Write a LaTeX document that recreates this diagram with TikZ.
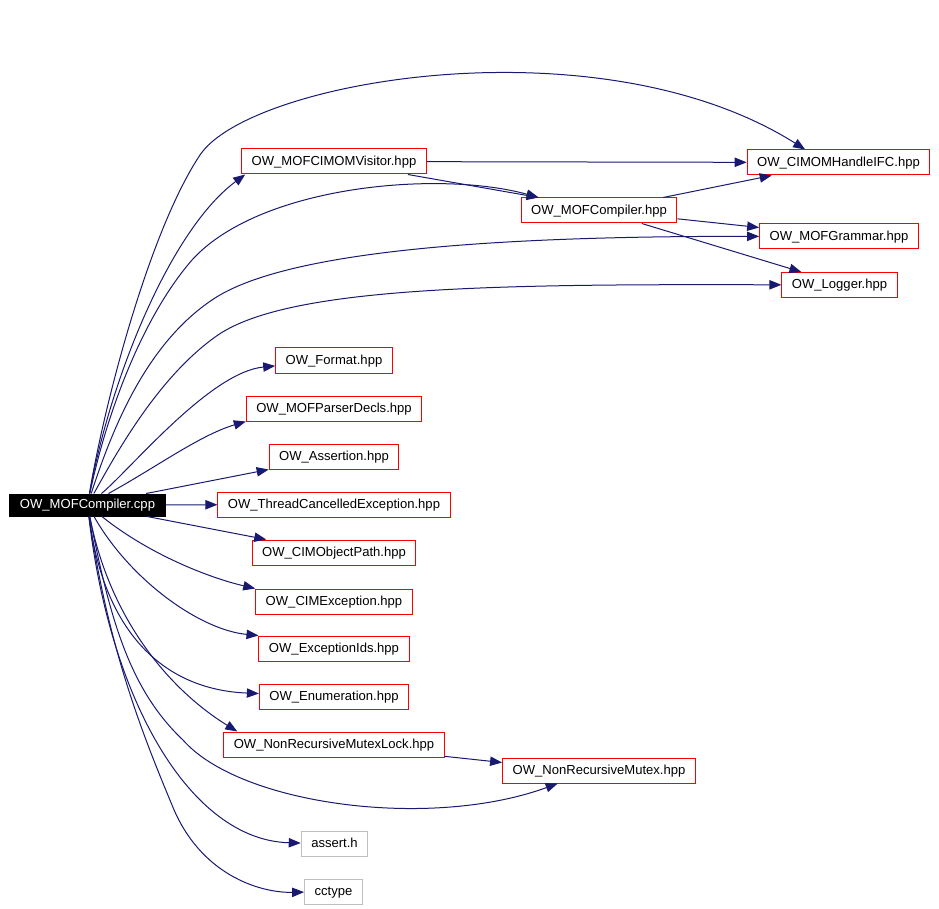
\documentclass[tikz,border=0pt]{standalone}
\usepackage{fontspec}
\setmainfont{Liberation Sans}
\usetikzlibrary{arrows.meta}
\definecolor{edgeblue}{HTML}{191970}
\definecolor{boxred}{HTML}{FF0000}
\definecolor{boxgrey}{HTML}{BFBFBF}

\begin{document}
\begin{tikzpicture}[x=0.75pt, y=-0.75pt,
    every file/.style={draw=boxred, line width=0.75pt, minimum height=18.75pt,
      inner xsep=7.5pt, inner ysep=0pt, text height=7pt, text depth=1.6pt,
      font=\fontsize{9.8}{11}\selectfont},
    sys file/.style={every file, draw=boxgrey},
    main file/.style={every file, draw=black, fill=black, text=white, minimum height=16.5pt},
    dep/.style={draw=edgeblue, line width=0.75pt, -{Triangle[length=9pt,width=7pt]}}]
  \useasboundingbox (0,0) rectangle (939,909);

  \node [main file] (main) at (87.5,505) {OW\_MOFCompiler.cpp};

  \node [every file] (visitor) at (334,161.5) {OW\_MOFCIMOMVisitor.hpp};
  \node [every file] (cimom) at (838.5,162.5) {OW\_CIMOMHandleIFC.hpp};
  \node [every file] (mofc) at (599,210.5) {OW\_MOFCompiler.hpp};
  \node [every file] (mofg) at (839,236.5) {OW\_MOFGrammar.hpp};
  \node [every file] (logger) at (839.5,285) {OW\_Logger.hpp};

  % included headers, one column
  \foreach \n/\f/\y in {fmt/Format/360.5, pdecl/MOFParserDecls/408.5, asrt/Assertion/456.5,
      tce/ThreadCancelledException/504.5, cop/CIMObjectPath/552.5, cex/CIMException/601.5,
      exid/ExceptionIds/648.5, enum/Enumeration/696.5, nrml/NonRecursiveMutexLock/744.5}
    \node [every file] (\n) at (334,\y) {OW\_\f.hpp};
  \node [every file] (nrm) at (599,770.5) {OW\_NonRecursiveMutex.hpp};
  \node [sys file] (ah) at (334.5,844) {assert.h};
  \node [sys file] (cc) at (333.5,891.5) {cctype};

  % edges from the source file
  \draw [dep] (main) .. controls (105,400) and (150,230) .. (200,155)
    .. controls (250,80) and (600,20) .. ([xshift=-25pt]cimom.north);
  \draw [dep] (main) .. controls (110,380) and (170,230) .. ([xshift=3pt]visitor.south west);
  \draw [dep] (main) .. controls (105,420) and (140,320) .. (192,260)
    .. controls (260,185) and (440,170) .. ([xshift=13.5pt]mofc.north west);
  \draw [dep] (main) .. controls (115,420) and (150,340) .. (215,298)
    .. controls (290,250) and (500,236) .. (mofg);
  \draw [dep] (main) .. controls (118,450) and (160,375) .. (218,335)
    .. controls (290,286) and (500,284) .. (logger);
  \draw [dep] (main) .. controls (130,470) and (210,372) .. (fmt);
  \draw [dep] (main) .. controls (155,468) and (200,435) .. (pdecl.south west);
  \draw [dep] (main) -- (asrt.south west);
  \draw [dep] (main) -- (tce);
  \draw [dep] (main) -- ([xshift=11pt]cop.north west);
  \draw [dep] (main) .. controls (150,555) and (210,578) .. (cex.north west);
  \draw [dep] (main) .. controls (130,580) and (200,630) .. (exid.north west);
  \draw [dep] (main) .. controls (105,640) and (170,690) .. (enum);
  \draw [dep] (main) .. controls (110,620) and (170,690) .. ([xshift=10.5pt]nrml.north west);
  \draw [dep] (main) .. controls (110,620) and (130,690) .. (183,740)
    .. controls (240,805) and (430,830) .. ([xshift=-31pt]nrm.south);
  \draw [dep] (main) .. controls (110,700) and (190,840) .. (ah);
  \draw [dep] (main) .. controls (108,650) and (145,740) .. (172,805)
    .. controls (200,875) and (260,893) .. (cc);

  % edges between headers
  \draw [dep] (visitor) -- (cimom);
  \draw [dep] (visitor) -- ([xshift=13.5pt]mofc.north west);
  \draw [dep] (mofc) -- ([xshift=18.75pt]cimom.south west);
  \draw [dep] (mofc) -- ([yshift=-3pt]mofg.north west);
  \draw [dep] (mofc) -- ([xshift=15pt]logger.north west);
  \draw [dep] (nrml) -- ([yshift=6pt]nrm.west);
\end{tikzpicture}
\end{document}
